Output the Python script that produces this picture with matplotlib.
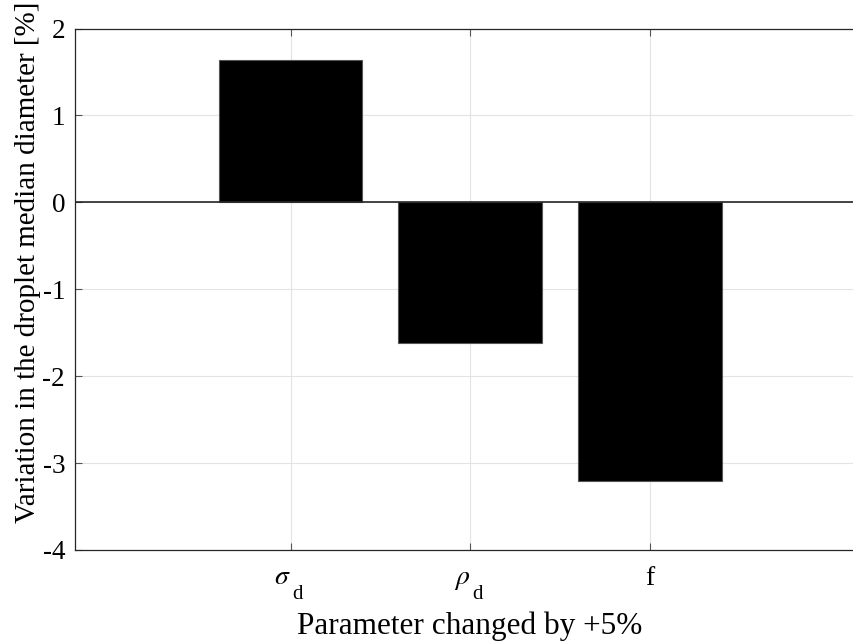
import numpy as np
import matplotlib
matplotlib.use("Agg")
import matplotlib.pyplot as plt

plt.rcParams['font.family'] = ['Liberation Serif', 'DejaVu Serif']
plt.rcParams['mathtext.fontset'] = 'stix'

# data
param_symbols = [r'$\sigma$', r'$\rho$', 'f']
param_subs = ['d', 'd', '']
variation = [1.64, -1.62, -3.21]
y_ticks = [-4, -3, -2, -1, 0, 1, 2]

PX = 0.72  # points per pixel at dpi 100

fig = plt.figure(figsize=(8.54, 6.44), dpi=100)
ax = fig.add_axes([0.0875, 0.146, 0.9125, 0.8097])

x = np.arange(1, len(variation) + 1)
ax.bar(x, variation, width=0.8, color='black', edgecolor='#555555',
       linewidth=0.8, zorder=3)
ax.axhline(0, color='#262626', linewidth=1.2, zorder=4)

ax.set_xlim(-0.2016, 4.137)
ax.set_ylim(-4, 2)
ax.set_xticks(x)
ax.set_xticklabels([''] * len(x))
ax.set_yticks(y_ticks)
ax.set_yticklabels([str(t) for t in y_ticks])

# x tick labels: symbol with a low subscript, like the MATLAB tex render
trans = ax.get_xaxis_transform()
for xi, sym, sub in zip(x, param_symbols, param_subs):
    if sub:
        ax.annotate(sym, xy=(xi, 0), xycoords=trans,
                    xytext=(0.5 * PX, -34 * PX), textcoords='offset points',
                    ha='right', va='baseline', fontsize=20)
        ax.annotate(sub, xy=(xi, 0), xycoords=trans,
                    xytext=(2 * PX, -49 * PX), textcoords='offset points',
                    ha='left', va='baseline', fontsize=15)
    else:
        ax.annotate(sym, xy=(xi, 0), xycoords=trans,
                    xytext=(0, -35 * PX), textcoords='offset points',
                    ha='center', va='baseline', fontsize=20)

ax.grid(True, color='#e3e3e3', linewidth=0.8, zorder=0)
ax.set_axisbelow(True)
ax.tick_params(direction='in', length=5, width=0.8, color='#555555',
               labelsize=19.5, pad=7, top=True)
for side in ['left', 'bottom', 'top']:
    ax.spines[side].set_color('#262626')
    ax.spines[side].set_linewidth(0.9)
ax.spines['right'].set_visible(False)

ax.set_xlabel('Parameter changed by +5%', fontsize=22.5)
ax.xaxis.set_label_coords(0.507, -(612 - 550) / 521.5)
ax.xaxis.label.set_va('top')
ax.set_ylabel('Variation in the droplet median diameter [%]', fontsize=21)
ax.yaxis.set_label_coords(-0.060, (550 - 262) / 521.5)
ax.yaxis.label.set_va('center')

fig.savefig('out.png', dpi=100)
